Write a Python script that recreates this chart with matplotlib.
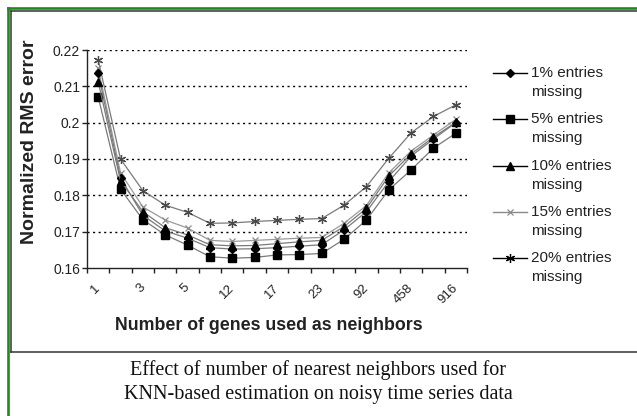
import numpy as np
import matplotlib
matplotlib.use('Agg')
import matplotlib.pyplot as plt
import matplotlib.transforms as mtransforms
from matplotlib.lines import Line2D

plt.rcParams['font.family'] = ['Liberation Sans', 'DejaVu Sans']

# number of neighbours (17 categories, every other one labelled)
x_labels = ['1', '', '3', '', '5', '', '12', '', '17', '', '23', '', '92', '', '458', '', '916']
y_ticks = [0.16, 0.17, 0.18, 0.19, 0.20, 0.21, 0.22]
y_tick_labels = ['0.16', '0.17', '0.18', '0.19', '0.2', '0.21', '0.22']

# normalized RMS error for each share of missing entries
miss_1 = [0.2137, 0.1848, 0.1745, 0.1702, 0.1682, 0.1656, 0.1652, 0.1653, 0.1656,
          0.1660, 0.1664, 0.1705, 0.1755, 0.1838, 0.1908, 0.1955, 0.2000]
miss_5 = [0.2071, 0.1817, 0.1733, 0.1691, 0.1663, 0.1631, 0.1627, 0.1629, 0.1636,
          0.1637, 0.1640, 0.1679, 0.1732, 0.1815, 0.1870, 0.1930, 0.1971]
miss_10 = [0.2113, 0.1840, 0.1755, 0.1711, 0.1691, 0.1664, 0.1661, 0.1662, 0.1667,
           0.1672, 0.1676, 0.1714, 0.1764, 0.1853, 0.1914, 0.1960, 0.2001]
miss_15 = [0.2150, 0.1862, 0.1768, 0.1732, 0.1710, 0.1676, 0.1673, 0.1676, 0.1679,
           0.1682, 0.1684, 0.1723, 0.1772, 0.1862, 0.1922, 0.1966, 0.2009]
miss_20 = [0.2173, 0.1900, 0.1813, 0.1773, 0.1753, 0.1723, 0.1724, 0.1728, 0.1731,
           0.1734, 0.1736, 0.1773, 0.1824, 0.1902, 0.1972, 0.2017, 0.2049]
series_names = ['1% entries', '5% entries', '10% entries', '15% entries', '20% entries']

W, H = 637, 416
def fx(x):
    return x / W
def fy(y):
    return 1 - y / H

fig = plt.figure(figsize=(W / 100, H / 100), dpi=100)
fig.patch.set_facecolor('white')

# frames (green outer, dark inner box)
fig.add_artist(Line2D([fx(7.5), fx(7.5)], [0, fy(7.5)], color='#1c8c1c', lw=1.9))
fig.add_artist(Line2D([fx(7.5), 1], [fy(7.5), fy(7.5)], color='#1c8c1c', lw=1.9))
fig.add_artist(Line2D([fx(11), fx(11)], [fy(352), fy(11)], color='#333333', lw=1.1))
fig.add_artist(Line2D([fx(11), 1], [fy(11), fy(11)], color='#333333', lw=1.1))
fig.add_artist(Line2D([fx(11), 1], [fy(352), fy(352)], color='#333333', lw=1.1))

ax = fig.add_axes([fx(87), fy(268), 380 / W, 218 / H])
x = np.arange(len(x_labels))

styles = [
    (miss_20, dict(marker=(6, 2, 0), ms=6.5, mec='#4a4a4a', mew=0.9, color='#7a7a7a')),
    (miss_15, dict(marker='x', ms=5, mec='#8a8a8a', mew=0.9, color='#9a9a9a')),
    (miss_5, dict(marker='s', ms=5.8, mfc='black', mec='black', color='#7a7a7a')),
    (miss_1, dict(marker='D', ms=4, mfc='black', mec='black', color='#7a7a7a')),
    (miss_10, dict(marker='^', ms=6.2, mfc='black', mec='black', color='#7a7a7a')),
]
for vals, st in styles:
    ax.plot(x, vals, lw=0.9, **st)

ax.set_xlim(-0.5, len(x_labels) - 0.5)
ax.set_ylim(0.16, 0.22)
for v in y_ticks[1:]:
    ax.axhline(v, color='black', lw=1.0, ls=(0, (1.5, 2.5)), zorder=0)

for s in ['top', 'right']:
    ax.spines[s].set_visible(False)
for s in ['left', 'bottom']:
    ax.spines[s].set_linewidth(1.0)
    ax.spines[s].set_color('#222222')

ax.set_yticks(y_ticks)
ax.set_yticklabels(y_tick_labels, fontsize=10, color='#222222')
ax.tick_params(axis='y', direction='out', length=3.5, width=1, pad=1.5, colors='#222222')

ax.set_xticks(x)
ax.set_xticklabels(x_labels, fontsize=9.5, rotation=45, ha='right', va='top',
                   rotation_mode='anchor', color='#222222')
ax.tick_params(axis='x', which='major', length=0, pad=10)
shift = mtransforms.ScaledTranslation(-4 / 100, 0, fig.dpi_scale_trans)
for lab in ax.get_xticklabels():
    lab.set_transform(lab.get_transform() + shift)
ax.set_xticks(np.arange(len(x_labels) + 1) - 0.5, minor=True)
ax.tick_params(axis='x', which='minor', direction='out', length=3.5, width=1, color='#222222')
ax.set_facecolor('none')

fig.text(fx(29.5), fy(142), 'Normalized RMS error', rotation=90, ha='center', va='center',
         fontsize=14, fontweight='bold', color='#222222')
fig.text(fx(269), fy(326), 'Number of genes used as neighbors', ha='center', va='center',
         fontsize=12.8, fontweight='bold', color='#222222')

# legend
leg_y = [73, 119, 166, 212, 258]
leg_styles = [
    dict(marker='D', ms=4, mfc='black', mec='black', color='black'),
    dict(marker='s', ms=5.8, mfc='black', mec='black', color='black'),
    dict(marker='^', ms=6.2, mfc='black', mec='black', color='black'),
    dict(marker='x', ms=5, mec='#8a8a8a', mew=0.9, color='#8a8a8a'),
    dict(marker=(6, 2, 0), ms=6.5, mec='black', mew=0.9, color='black'),
]
for name, yy, st in zip(series_names, leg_y, leg_styles):
    fig.add_artist(Line2D([fx(493), fx(527)], [fy(yy), fy(yy)], lw=1.0, color=st['color']))
    mst = {k: v for k, v in st.items() if k != 'color'}
    fig.add_artist(Line2D([fx(510)], [fy(yy)], ls='none', **mst))
    fig.text(fx(531), fy(yy), name, ha='left', va='center', fontsize=11, color='#222222')
    fig.text(fx(531), fy(yy + 19), 'missing', ha='left', va='center', fontsize=11, color='#222222')

# caption
fig.text(fx(318), fy(370), 'Effect of number of nearest neighbors used for', ha='center',
         va='center', fontsize=14.5, family='Liberation Serif', color='#111111')
fig.text(fx(318), fy(395), 'KNN-based estimation on noisy time series data', ha='center',
         va='center', fontsize=14.5, family='Liberation Serif', color='#111111')

fig.savefig('out.png', dpi=100, facecolor='white')
